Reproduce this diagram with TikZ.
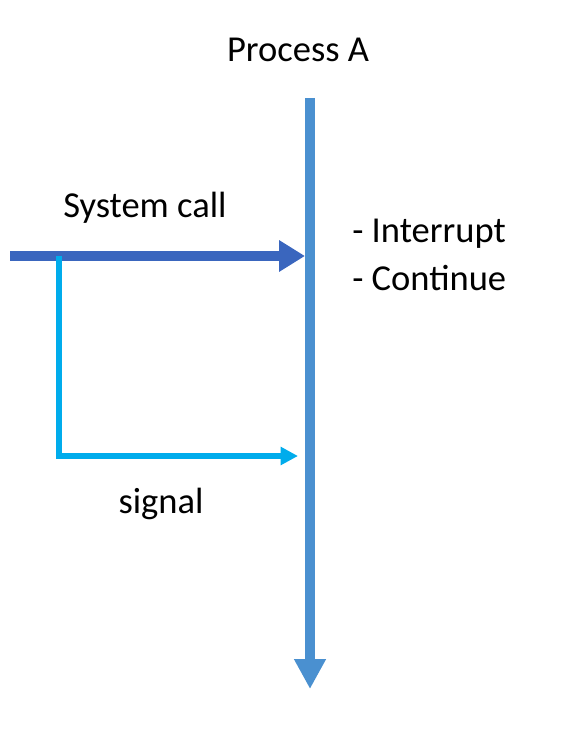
\documentclass[tikz,border=0pt]{standalone}
\usepackage{fontspec}
\setmainfont{Carlito}
\usepackage{tikz}
\usetikzlibrary{positioning,arrows.meta}

\definecolor{lineblue}{RGB}{74,144,208}
\definecolor{callblue}{RGB}{58,102,190}
\definecolor{sigcyan}{RGB}{0,172,236}

\begin{document}
\begin{tikzpicture}[
  x=0.75pt, y=-0.75pt,
  every node/.style={font=\fontsize{27.4}{33}\selectfont, inner sep=0pt},
  timeline/.style={draw=lineblue, line width=7.5pt, -{Triangle[length=22.5pt, width=22.5pt]}},
  callflow/.style={draw=callblue, line width=7.5pt, -{Triangle[length=19.5pt, width=22.5pt]}},
  sigflow/.style={draw=sigcyan, line width=4pt, -{Triangle[length=13pt, width=13pt]}}
]
\useasboundingbox (0,0) rectangle (566,734);
% Process
\node[anchor=base] (proc) at (298, 62) {Process A};
\coordinate (ptop) at (310, 98);
\coordinate (pend) at (310, 689);
\draw[timeline] (ptop) -- (pend);
% System call
\node[anchor=base west] (calltxt) at (63, 218) {System call};
\coordinate (cstart) at (10, 256);
\coordinate (cend) at (305, 256);
\draw[callflow] (cstart) -- (cend);
% Reactions
\node[anchor=base west] (intr) at (352, 243) {- Interrupt};
\node[anchor=base west] (cont) at (352, 290) {- Continue};
% Signal
\coordinate (sstart) at (59, 256);
\coordinate (scorner) at (59, 456);
\coordinate (send) at (298, 456);
\draw[sigflow] (sstart) -- (scorner) -- (send);
\node[anchor=base] (sigtxt) at (161, 513) {signal};
\end{tikzpicture}
\end{document}
